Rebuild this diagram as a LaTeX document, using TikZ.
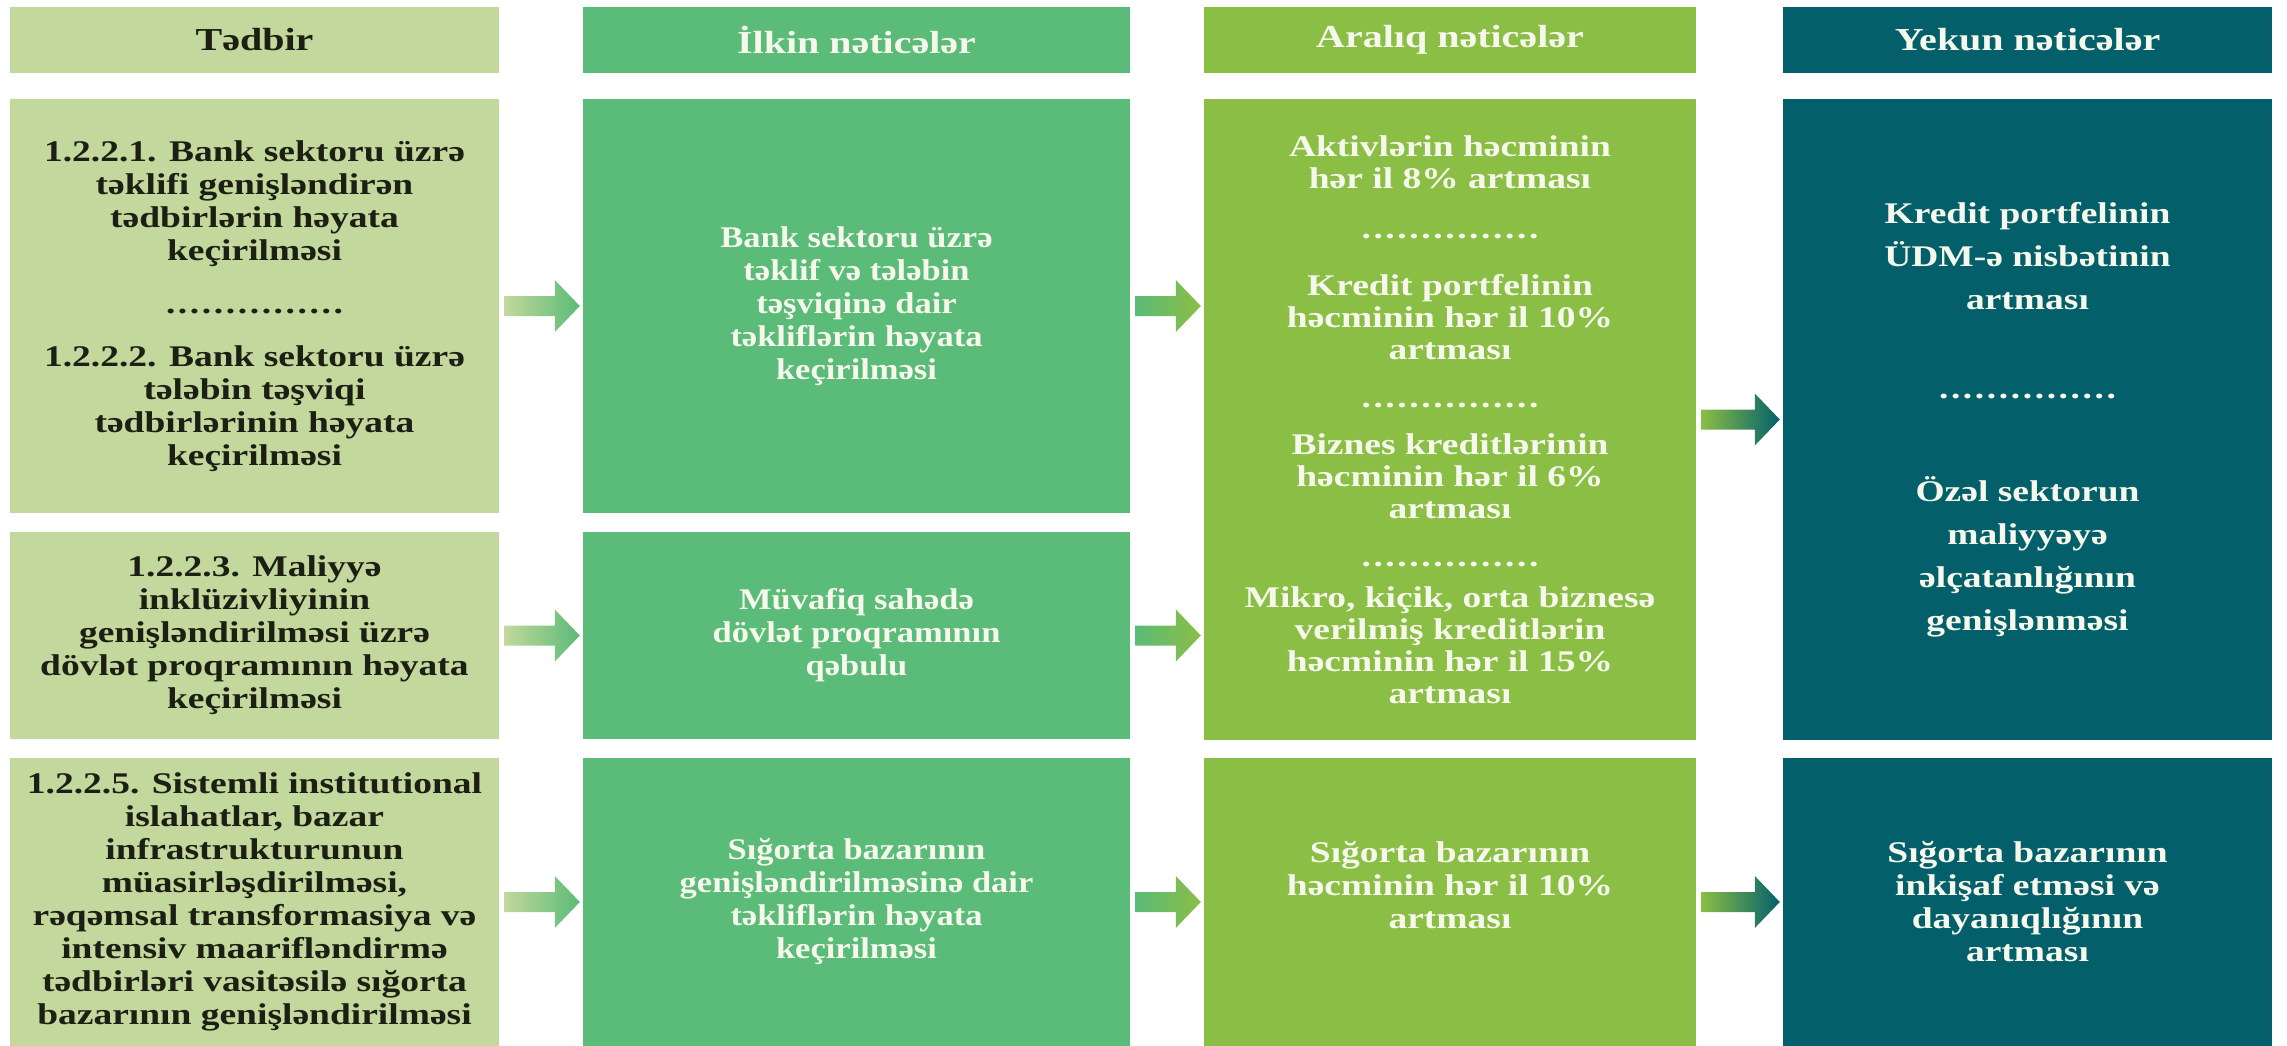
\documentclass[tikz,border=0pt]{standalone}
\usepackage{fontspec}
\setmainfont[FakeStretch=1.25]{Liberation Serif}
\newfontfamily\narrowfont[FakeStretch=1.15]{Liberation Serif}
\usetikzlibrary{calc}

\definecolor{tedbir}{HTML}{C3D89C}
\definecolor{ilkin}{HTML}{5BBB78}
\definecolor{araliq}{HTML}{8BBE45}
\definecolor{yekun}{HTML}{03606B}
\definecolor{darktext}{HTML}{1C1F14}
\definecolor{lighttext}{HTML}{F6F8EC}

% row of dots between two items
\newcommand{\dotrow}{\hbox to 180pt{\xleaders\hbox to 11.5pt{\hss.\hss}\hfill}}

% fat arrow with a colour fade, from one box to the next
\newcommand{\flowarrow}[4]{%
  \shade[left color=#3, right color=#4]
    ($(#1.east)+(5,-10)$) -- ($(#1.east -| #2.west)+(-28,-10)$)
    -- ($(#1.east -| #2.west)+(-28,-26)$) -- ($(#1.east -| #2.west)+(-3,0)$)
    -- ($(#1.east -| #2.west)+(-28,26)$) -- ($(#1.east -| #2.west)+(-28,10)$)
    -- ($(#1.east)+(5,10)$) -- cycle;}

\begin{document}
\begin{tikzpicture}[
        x=1pt, y=-1pt,
        box/.style={
        rectangle,
        inner sep=0pt,
        align=center,
        font=\bfseries\fontsize{30}{33}\selectfont
      },
      tbox/.style={box, fill=tedbir, text=darktext, minimum width=489pt},
      ibox/.style={box, fill=ilkin, text=lighttext, minimum width=547pt,
        font=\narrowfont\bfseries\fontsize{30}{33}\selectfont},
      abox/.style={box, fill=araliq, text=lighttext, minimum width=492pt},
      ybox/.style={box, fill=yekun, text=lighttext, minimum width=489pt},
      head/.style={minimum height=66pt, font=\bfseries\fontsize{32}{35}\selectfont}
    ]

    \useasboundingbox (0, 0) rectangle (2287, 1046);

    % headers
    \node[tbox, head] (ht) at (254.5, 40) {Tədbir};
    \node[ibox, head] (hi) at (856.5, 40) {İlkin nəticələr};
    \node[abox, head] (ha) at (1450, 40) {Aralıq nəticələr};
    \node[ybox, head] (hy) at (2027.5, 40) {Yekun nəticələr};

    % Tədbir
    \node[tbox, minimum height=414pt] (t1) at (254.5, 306) {1.2.2.1. Bank sektoru üzrə\\
      təklifi genişləndirən\\ tədbirlərin həyata\\ keçirilməsi\\[20pt]
      \dotrow\\[20pt]
      1.2.2.2. Bank sektoru üzrə\\ tələbin təşviqi\\ tədbirlərinin həyata\\ keçirilməsi};
    \node[tbox, minimum height=207pt] (t2) at (254.5, 635.5) {1.2.2.3. Maliyyə\\
      inklüzivliyinin\\ genişləndirilməsi üzrə\\ dövlət proqramının həyata\\ keçirilməsi};
    \node[tbox, minimum height=288pt] (t3) at (254.5, 902) {1.2.2.5. Sistemli institutional\\
      islahatlar, bazar\\ infrastrukturunun\\ müasirləşdirilməsi,\\
      rəqəmsal transformasiya və\\ intensiv maarifləndirmə\\
      tədbirləri vasitəsilə sığorta\\ bazarının genişləndirilməsi};

    % İlkin nəticələr
    \node[ibox, minimum height=414pt] (i1) at (856.5, 306) {Bank sektoru üzrə\\
      təklif və tələbin\\ təşviqinə dair\\ təkliflərin həyata\\ keçirilməsi};
    \node[ibox, minimum height=207pt] (i2) at (856.5, 635.5) {Müvafiq sahədə\\
      dövlət proqramının\\ qəbulu};
    \node[ibox, minimum height=288pt] (i3) at (856.5, 902) {Sığorta bazarının\\
      genişləndirilməsinə dair\\ təkliflərin həyata\\ keçirilməsi};

    % Aralıq nəticələr
    \node[abox, minimum height=641pt, font=\bfseries\fontsize{30}{32}\selectfont] (a12)
      at (1450, 419.5) {Aktivlərin həcminin\\
      hər il 8\% artması\\[18pt]
      \dotrow\\[25pt]
      Kredit portfelinin\\ həcminin hər il 10\%\\ artması\\[16pt]
      \dotrow\\[15pt]
      Biznes kreditlərinin\\ həcminin hər il 6\%\\ artması\\[16pt]
      \dotrow\\[9pt]
      Mikro, kiçik, orta biznesə\\ verilmiş kreditlərin\\ həcminin hər il 15\%\\ artması};
    \node[abox, minimum height=288pt, text depth=35pt] (a3) at (1450, 902) {Sığorta bazarının\\
      həcminin hər il 10\%\\ artması};

    % Yekun nəticələr
    \node[ybox, minimum height=641pt, font=\bfseries\fontsize{30}{43}\selectfont] (y12)
      at (2027.5, 419.5) {Kredit portfelinin\\ ÜDM-ə nisbətinin\\ artması\\[46pt]
      \dotrow\\[60pt]
      Özəl sektorun\\ maliyyəyə\\ əlçatanlığının\\ genişlənməsi};
    \node[ybox, minimum height=288pt] (y3) at (2027.5, 902) {Sığorta bazarının\\
      inkişaf etməsi və\\ dayanıqlığının\\ artması};

    \flowarrow{t1}{i1}{tedbir}{ilkin}
    \flowarrow{t2}{i2}{tedbir}{ilkin}
    \flowarrow{t3}{i3}{tedbir}{ilkin}

    \flowarrow{i1}{a12}{ilkin}{araliq}
    \flowarrow{i2}{a12}{ilkin}{araliq}
    \flowarrow{i3}{a3}{ilkin}{araliq}

    \flowarrow{a12}{y12}{araliq}{yekun}
    \flowarrow{a3}{y3}{araliq}{yekun}

  \end{tikzpicture}
\end{document}
